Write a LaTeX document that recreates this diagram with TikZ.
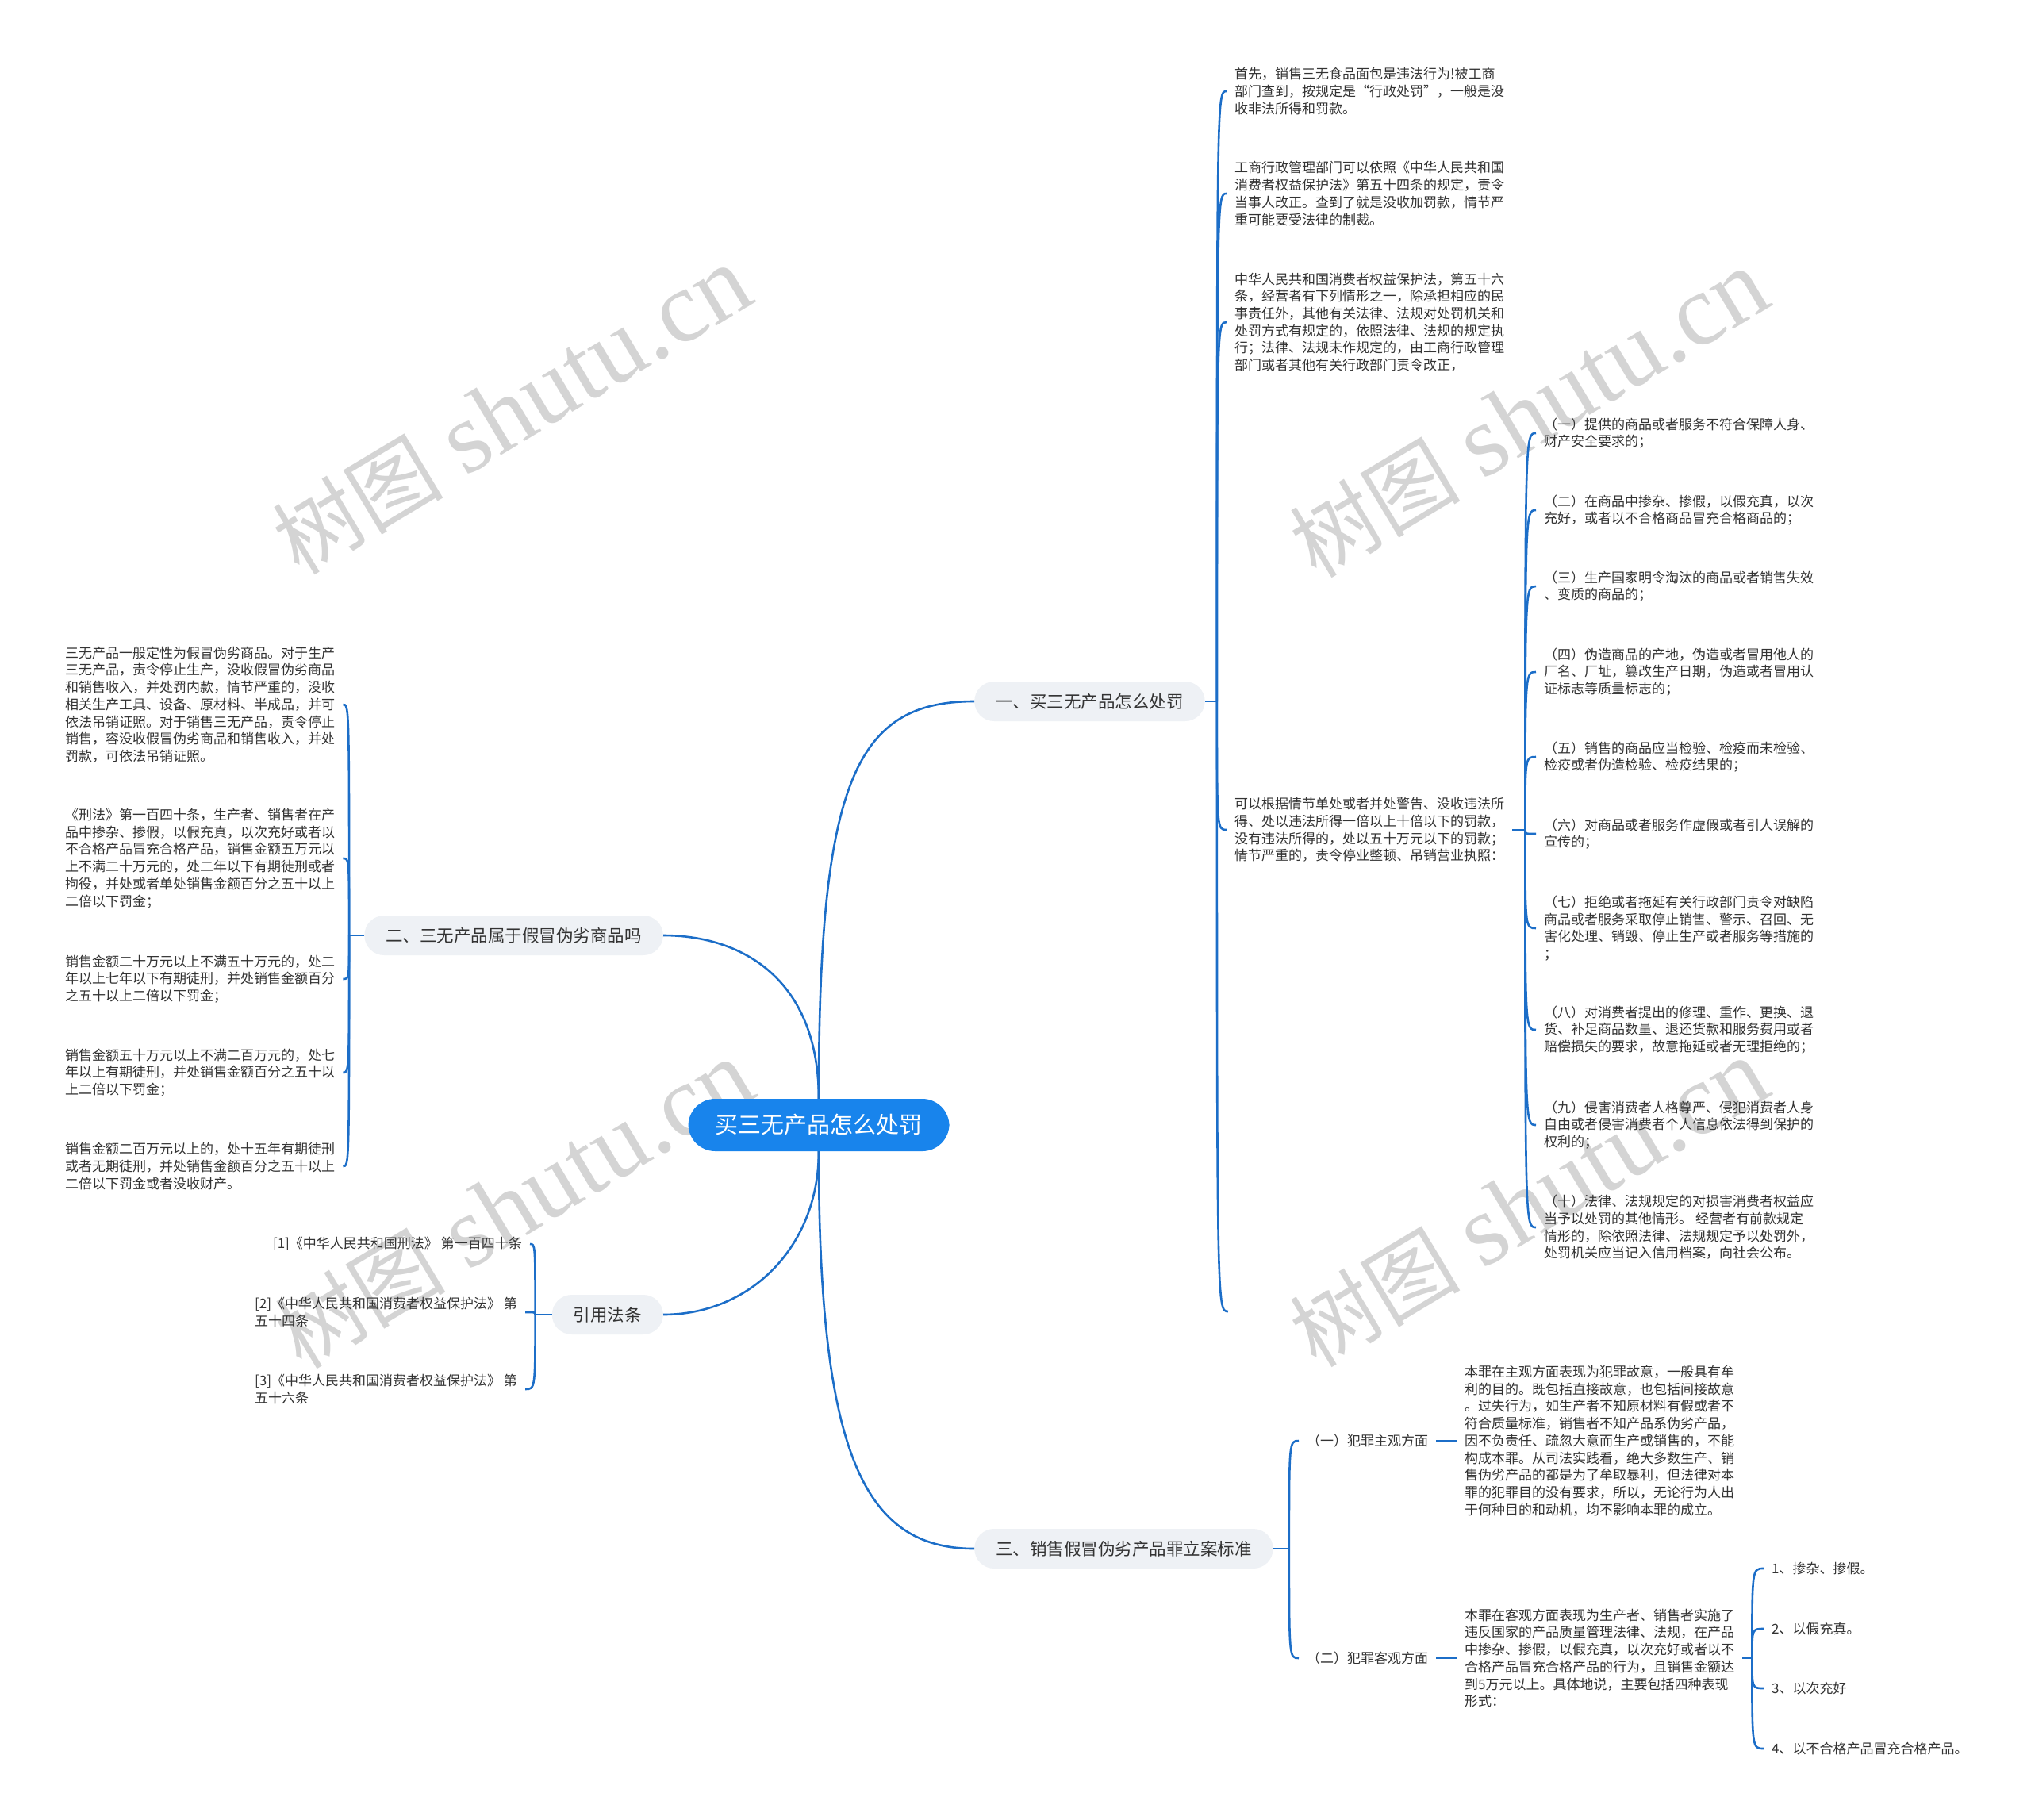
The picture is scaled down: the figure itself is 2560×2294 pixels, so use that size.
\documentclass[tikz,border=0pt]{standalone}
\usepackage{fontspec}
\setmainfont{Noto Sans CJK SC}
\newfontfamily\wmserif{Liberation Serif}
\usetikzlibrary{calc}
\definecolor{linkblue}{RGB}{28,110,200}
\definecolor{rootblue}{RGB}{24,132,236}
\definecolor{branchfill}{RGB}{238,241,245}
\definecolor{txt}{RGB}{51,51,51}
\definecolor{wm}{RGB}{212,212,212}
\tikzset{
  link/.style={draw=linkblue, line width=2.6pt},
  rootnode/.style={fill=rootblue, text=white, rounded corners=34pt, minimum height=66pt, inner xsep=34pt, font=\fontsize{29}{34}\selectfont},
  branchnode/.style={fill=branchfill, text=txt, rounded corners=25pt, minimum height=50pt, inner xsep=27pt, font=\fontsize{21.5}{26}\selectfont},
  leaf/.style={text=txt, align=left, inner xsep=10pt, inner ysep=0pt, font=\fontsize{17}{21.7}\selectfont},
  wmark/.style={text=wm, rotate=31, inner sep=0pt},
}
\newcommand\wmtext{{\fontsize{108}{110}\selectfont 树图}\hspace{28pt}{\wmserif\fontsize{128}{130}\selectfont shutu.cn}}
\begin{document}
\begin{tikzpicture}[x=1pt,y=-1pt]
\useasboundingbox (0,0) rectangle (2560,2294);
\fill[white] (0,0) rectangle (2560,2294);

% watermarks
\node[wmark] (w1) at (645,518) {\wmtext};
\node[wmark] (w2) at (1927,522) {\wmtext};
\node[wmark] (w3) at (648,1519) {\wmtext};
\node[wmark] (w4) at (1927,1517) {\wmtext};

% root and main branches
\node[rootnode] (root) at (1032,1418) {买三无产品怎么处罚};
\node[branchnode, anchor=west] (b1) at (1228,884) {一、买三无产品怎么处罚};
\node[branchnode, anchor=east] (b2) at (836,1179) {二、三无产品属于假冒伪劣商品吗};
\node[branchnode, anchor=west] (b3) at (1228,1952) {三、销售假冒伪劣产品罪立案标准};
\node[branchnode, anchor=east] (b4) at (836,1657) {引用法条};

\draw[link] (root.north) .. controls +(0,-400) and +(-150,0) .. (b1.west);
\draw[link] (root.north) .. controls +(0,-150) and +(100,0) .. (b2.east);
\draw[link] (root.south) .. controls +(0,120) and +(110,0) .. (b4.east);
\draw[link] (root.south) .. controls +(0,380) and +(-140,0) .. (b3.west);

% branch 1 children
\node[leaf, anchor=west] (a1) at (1546,115) {首先，销售三无食品面包是违法行为!被工商\\部门查到，按规定是“行政处罚”，一般是没\\收非法所得和罚款。};
\node[leaf, anchor=west] (a2) at (1546,244) {工商行政管理部门可以依照《中华人民共和国\\消费者权益保护法》第五十四条的规定，责令\\当事人改正。查到了就是没收加罚款，情节严\\重可能要受法律的制裁。};
\node[leaf, anchor=west] (a3) at (1546,406) {中华人民共和国消费者权益保护法，第五十六\\条，经营者有下列情形之一，除承担相应的民\\事责任外，其他有关法律、法规对处罚机关和\\处罚方式有规定的，依照法律、法规的规定执\\行；法律、法规未作规定的，由工商行政管理\\部门或者其他有关行政部门责令改正，};
\node[leaf, anchor=west] (a4) at (1546,1046) {可以根据情节单处或者并处警告、没收违法所\\得、处以违法所得一倍以上十倍以下的罚款，\\没有违法所得的，处以五十万元以下的罚款；\\情节严重的，责令停业整顿、吊销营业执照：};
\coordinate (a5) at (1548,1653);

\coordinate (j1) at ([xshift=15pt]b1.east);
\draw[link] (b1.east) -- (j1);
\foreach \n in {a1,a2,a3,a4} \draw[link] (j1) .. controls (j1 |- \n.west) .. (\n.west);
\draw[link] (j1) .. controls (j1 |- a5) .. (a5);

% list under a4
\node[leaf, anchor=west] (s1) at (1936,546) {（一）提供的商品或者服务不符合保障人身、\\财产安全要求的；};
\node[leaf, anchor=west] (s2) at (1936,643) {（二）在商品中掺杂、掺假，以假充真，以次\\充好，或者以不合格商品冒充合格商品的；};
\node[leaf, anchor=west] (s3) at (1936,739) {（三）生产国家明令淘汰的商品或者销售失效\\、变质的商品的；};
\node[leaf, anchor=west] (s4) at (1936,847) {（四）伪造商品的产地，伪造或者冒用他人的\\厂名、厂址，篡改生产日期，伪造或者冒用认\\证标志等质量标志的；};
\node[leaf, anchor=west] (s5) at (1936,954) {（五）销售的商品应当检验、检疫而未检验、\\检疫或者伪造检验、检疫结果的；};
\node[leaf, anchor=west] (s6) at (1936,1051) {（六）对商品或者服务作虚假或者引人误解的\\宣传的；};
\node[leaf, anchor=west] (s7) at (1936,1170) {（七）拒绝或者拖延有关行政部门责令对缺陷\\商品或者服务采取停止销售、警示、召回、无\\害化处理、销毁、停止生产或者服务等措施的\\；};
\node[leaf, anchor=west] (s8) at (1936,1298) {（八）对消费者提出的修理、重作、更换、退\\货、补足商品数量、退还货款和服务费用或者\\赔偿损失的要求，故意拖延或者无理拒绝的；};
\node[leaf, anchor=west] (s9) at (1936,1418) {（九）侵害消费者人格尊严、侵犯消费者人身\\自由或者侵害消费者个人信息依法得到保护的\\权利的；};
\node[leaf, anchor=west] (s10) at (1936,1547) {（十）法律、法规规定的对损害消费者权益应\\当予以处罚的其他情形。 经营者有前款规定\\情形的，除依照法律、法规规定予以处罚外，\\处罚机关应当记入信用档案，向社会公布。};

\coordinate (j4) at ([xshift=16pt]a4.east);
\draw[link] (a4.east) -- (j4);
\foreach \n in {s1,s2,s3,s4,s5,s6,s7,s8,s9,s10} \draw[link] (j4) .. controls (j4 |- \n.west) .. (\n.west);

% branch 2 children (left)
\node[leaf, anchor=west] (l1) at (72,888) {三无产品一般定性为假冒伪劣商品。对于生产\\三无产品，责令停止生产，没收假冒伪劣商品\\和销售收入，并处罚内款，情节严重的，没收\\相关生产工具、设备、原材料、半成品，并可\\依法吊销证照。对于销售三无产品，责令停止\\销售，容没收假冒伪劣商品和销售收入，并处\\罚款，可依法吊销证照。};
\node[leaf, anchor=west] (l2) at (72,1082) {《刑法》第一百四十条，生产者、销售者在产\\品中掺杂、掺假，以假充真，以次充好或者以\\不合格产品冒充合格产品，销售金额五万元以\\上不满二十万元的，处二年以下有期徒刑或者\\拘役，并处或者单处销售金额百分之五十以上\\二倍以下罚金；};
\node[leaf, anchor=west] (l3) at (72,1234) {销售金额二十万元以上不满五十万元的，处二\\年以上七年以下有期徒刑，并处销售金额百分\\之五十以上二倍以下罚金；};
\node[leaf, anchor=west] (l4) at (72,1352) {销售金额五十万元以上不满二百万元的，处七\\年以上有期徒刑，并处销售金额百分之五十以\\上二倍以下罚金；};
\node[leaf, anchor=west] (l5) at (72,1470) {销售金额二百万元以上的，处十五年有期徒刑\\或者无期徒刑，并处销售金额百分之五十以上\\二倍以下罚金或者没收财产。};

\coordinate (j2) at ([xshift=-19pt]b2.west);
\draw[link] (b2.west) -- (j2);
\foreach \n in {l1,l2,l3,l4,l5} \draw[link] (j2) .. controls (j2 |- \n.east) .. (\n.east);

% references
\node[leaf, anchor=east] (r1) at (668,1568) {[1]《中华人民共和国刑法》 第一百四十条};
\node[leaf, anchor=west] (r2) at (311,1654) {[2]《中华人民共和国消费者权益保护法》 第\\五十四条};
\node[leaf, anchor=west] (r3) at (311,1751) {[3]《中华人民共和国消费者权益保护法》 第\\五十六条};

\coordinate (j3) at ([xshift=-21pt]b4.west);
\draw[link] (b4.west) -- (j3);
\foreach \n in {r1,r2,r3} \draw[link] (j3) .. controls (j3 |- \n.east) .. (\n.east);

% branch 3 children
\node[leaf, anchor=west] (t1) at (1637,1816) {（一）犯罪主观方面};
\node[leaf, anchor=west] (t2) at (1637,2090) {（二）犯罪客观方面};
\node[leaf, anchor=west] (c1) at (1836,1816) {本罪在主观方面表现为犯罪故意，一般具有牟\\利的目的。既包括直接故意，也包括间接故意\\。过失行为，如生产者不知原材料有假或者不\\符合质量标准，销售者不知产品系伪劣产品，\\因不负责任、疏忽大意而生产或销售的，不能\\构成本罪。从司法实践看，绝大多数生产、销\\售伪劣产品的都是为了牟取暴利，但法律对本\\罪的犯罪目的没有要求，所以，无论行为人出\\于何种目的和动机，均不影响本罪的成立。};
\node[leaf, anchor=west] (c2) at (1836,2090) {本罪在客观方面表现为生产者、销售者实施了\\违反国家的产品质量管理法律、法规，在产品\\中掺杂、掺假，以假充真，以次充好或者以不\\合格产品冒充合格产品的行为，且销售金额达\\到5万元以上。具体地说，主要包括四种表现\\形式：};

\coordinate (j5) at ([xshift=20pt]b3.east);
\draw[link] (b3.east) -- (j5);
\foreach \n in {t1,t2} \draw[link] (j5) .. controls (j5 |- \n.west) .. (\n.west);
\draw[link] (t1.east) -- (c1.west);
\draw[link] (t2.east) -- (c2.west);

\node[leaf, anchor=west] (u1) at (2223,1977) {1、掺杂、掺假。};
\node[leaf, anchor=west] (u2) at (2223,2053) {2、以假充真。};
\node[leaf, anchor=west] (u3) at (2223,2128) {3、以次充好};
\node[leaf, anchor=west] (u4) at (2223,2204) {4、以不合格产品冒充合格产品。};

\coordinate (j6) at ([xshift=12pt]c2.east);
\draw[link] (c2.east) -- (j6);
\foreach \n in {u1,u2,u3,u4} \draw[link] (j6) .. controls (j6 |- \n.west) .. (\n.west);
\end{tikzpicture}
\end{document}
